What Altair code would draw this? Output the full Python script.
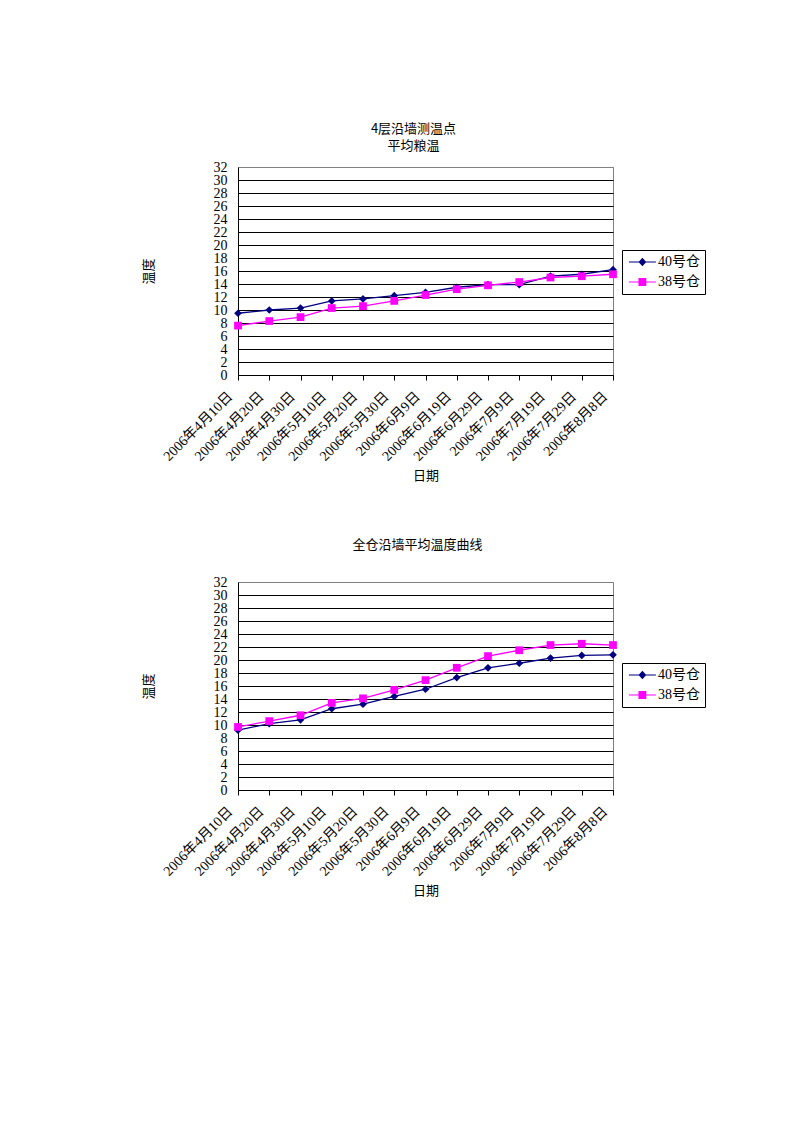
import altair as alt
import pandas as pd

dates = ["2006年4月10日", "2006年4月20日", "2006年4月30日", "2006年5月10日",
         "2006年5月20日", "2006年5月30日", "2006年6月9日", "2006年6月19日",
         "2006年6月29日", "2006年7月9日", "2006年7月19日", "2006年7月29日",
         "2006年8月8日"]
series_names = ["40号仓", "38号仓"]

top_40 = [9.5, 10.0, 10.3, 11.4, 11.7, 12.2, 12.7, 13.5, 13.9, 13.9, 15.2, 15.5, 16.2]
top_38 = [7.6, 8.3, 8.9, 10.3, 10.6, 11.4, 12.3, 13.2, 13.8, 14.3, 15.0, 15.2, 15.5]
bot_40 = [9.2, 10.2, 10.8, 12.5, 13.2, 14.4, 15.5, 17.3, 18.8, 19.5, 20.3, 20.7, 20.8]
bot_38 = [9.7, 10.6, 11.5, 13.4, 14.1, 15.4, 16.9, 18.8, 20.6, 21.5, 22.3, 22.5, 22.3]

y_ticks = list(range(0, 33, 2))
colors = ["#000080", "#FF00FF"]           # 40号仓, 38号仓
colors_sorted = ["#FF00FF", "#000080"]    # data-sorted order: 38号仓, 40号仓
title_top = ["4层沿墙测温点", "平均粮温"]
title_bottom = "全仓沿墙平均温度曲线"
x_title = "日期"
y_title = "温度"

SERIF = "Liberation Serif, Noto Sans CJK SC"
CJK = "Noto Sans CJK SC"

# legend symbols: a thin line with a marker on it (shifted right of the symbol anchor)
legend_paths = [
    "M-1.7,-0.18L7.3,-0.18L7.3,0.18L-1.7,0.18ZM2.8,-1.4L4.1,0L2.8,1.4L1.5,0Z",
    "M-1.7,-0.18L7.3,-0.18L7.3,0.18L-1.7,0.18ZM1.5,-1.3L4.1,-1.3L4.1,1.3L1.5,1.3Z",
]


def make_df(a, b):
    rows = []
    for d, v in zip(dates, a):
        rows.append({"date": d, "series": series_names[0], "v": v})
    for d, v in zip(dates, b):
        rows.append({"date": d, "series": series_names[1], "v": v})
    return pd.DataFrame(rows)


def panel(df, title, title_offset, title_dx, legend_y):
    x = alt.X(
        "date:N", sort=dates,
        scale=alt.Scale(type="point", padding=0),
        axis=alt.Axis(
            title=x_title, labelAngle=-45, labelAlign="right", labelBaseline="middle",
            labelFont=SERIF, labelFontSize=14, labelColor="black",
            labelPadding=14, labelOffset=-8, labelOverlap=False,
            tickSize=5, tickColor="black", domainColor="black", grid=False,
            titleFont=CJK, titleFontSize=13, titleFontWeight="normal",
            titleColor="black", titlePadding=6,
        ),
    )
    y = alt.Y(
        "v:Q",
        scale=alt.Scale(domain=[0, 32], nice=False, zero=True),
        axis=alt.Axis(
            values=y_ticks, title=y_title, labelFont=SERIF, labelFontSize=14,
            labelColor="black", labelPadding=11, labelOverlap=False,
            tickSize=0, domainColor="black",
            grid=True,
            gridColor={"condition": {"test": "datum.value == 32", "value": "#808080"},
                       "value": "black"},
            gridOpacity=1, gridWidth=1,
            titleFont=CJK, titleFontSize=13, titleFontWeight="normal",
            titleColor="black", titlePadding=58,
        ),
    )
    cscale = alt.Scale(range=colors_sorted)
    base = alt.Chart(df).encode(
        x=x, y=y, color=alt.Color("series:N", scale=cscale, legend=None)
    )
    line = base.mark_line(strokeWidth=1.3)
    p40 = base.transform_filter(alt.datum.series == series_names[0]).mark_point(
        shape="diamond", filled=True, size=60, opacity=1)
    p38 = base.transform_filter(alt.datum.series == series_names[1]).mark_point(
        shape="square", filled=True, size=60, opacity=1)
    leg_def = dict(
        title=None, orient="none", legendX=384, legendY=legend_y,
        strokeColor="black", fillColor="white", padding=5,
        labelFont=SERIF, labelFontSize=14, labelColor="black",
        symbolSize=36, symbolOffset=0, labelOffset=17, rowPadding=6,
        symbolStrokeWidth=0,
    )
    leg = alt.Chart(df).transform_filter("datum.v < -1000").mark_point(
        filled=True, opacity=1).encode(
        x=x, y=y,
        fill=alt.Fill("series:N", scale=alt.Scale(domain=series_names, range=colors),
                      legend=alt.Legend(**leg_def)),
        shape=alt.Shape("series:N",
                        scale=alt.Scale(domain=series_names, range=legend_paths),
                        legend=alt.Legend(**leg_def)),
    )
    return alt.layer(line, p40, p38, leg).properties(
        width=375, height=208,
        title=alt.TitleParams(
            title, font=CJK, fontSize=13, fontWeight="normal", color="black",
            anchor="middle", offset=title_offset, dx=title_dx, lineHeight=17,
        ),
    )


top = panel(make_df(top_40, top_38), title_top, 7, -12, 83)
bottom = panel(make_df(bot_40, bot_38), title_bottom, 23, -8, 81)

chart = alt.vconcat(top, bottom, spacing=55).resolve_scale(
    color="independent", shape="independent", fill="independent"
).resolve_legend(color="independent", shape="independent", fill="independent").properties(
    padding={"left": 141, "top": 122, "right": 5, "bottom": 5}
).configure_view(stroke="#808080", strokeWidth=1)

chart.save("out.html", embed_options={"renderer": "svg", "actions": False})
